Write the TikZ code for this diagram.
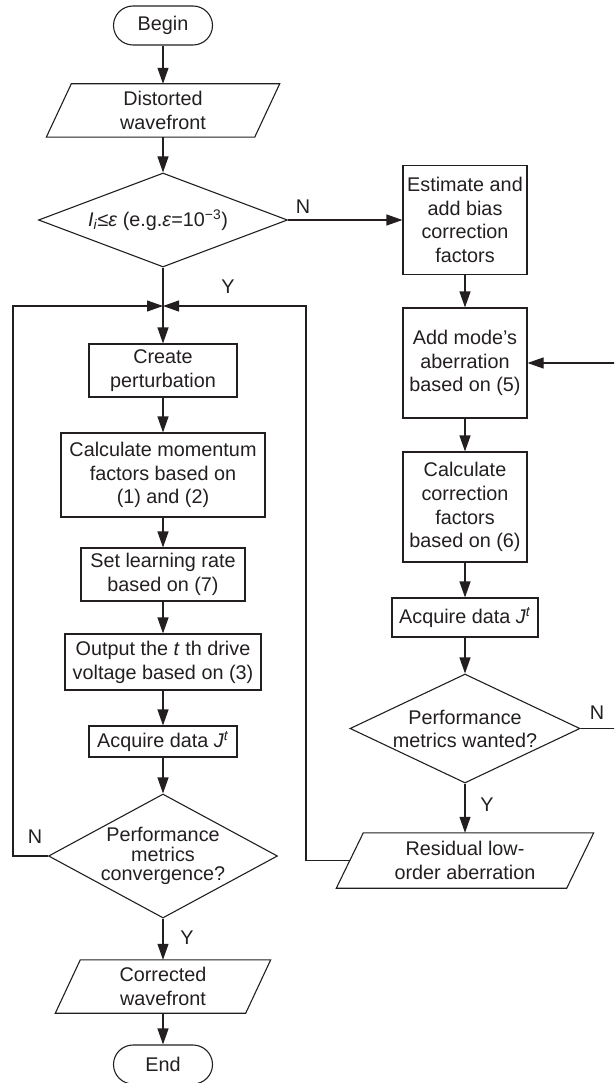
\documentclass[tikz,border=0pt]{standalone}
\usepackage{fontspec}
\setmainfont{Liberation Sans}
\usetikzlibrary{arrows.meta,shapes.geometric}
\definecolor{ink}{RGB}{35,31,32}
\newcommand\drawpara[2]{\draw[line] ([xshift=#2]#1.north west) -- ([xshift=#2]#1.north east) -- ([xshift=-#2]#1.south east) -- ([xshift=-#2]#1.south west) -- cycle;}
\begin{document}
\begin{tikzpicture}[x=1pt,y=-1pt,
  every node/.style={font=\fontsize{19.8}{23.8}\selectfont, text=ink},
  line/.style={draw=ink, line width=1.1pt},
  arr/.style={line, -{Triangle[length=16pt,width=11pt]}},
  box/.style={line, rectangle, inner sep=0pt, align=center},
  term/.style={line, rectangle, rounded corners=19.5pt, inner sep=0pt, minimum width=99pt, minimum height=39pt},
  para/.style={inner sep=0pt, align=center},
  dec/.style={line, diamond, inner sep=0pt},
  lab/.style={inner sep=0pt}
]
\useasboundingbox (0,0) rectangle (614,1083);
\clip (0,0) rectangle (614,1083);

% left column
\node[term] (begin) at (163,25.5) {Begin};
\node[para, minimum width=208pt, minimum height=53pt] (dist) at (163,110.5) {Distorted\\wavefront};
\drawpara{dist}{12.5pt}
\node[dec, minimum width=249pt, minimum height=94pt] (d1) at (163,220) {};
\node[lab] (d1t) at ([xshift=-5pt]d1.center) {\textit{I}\textsubscript{\textit{i}}≤\textit{ε} (e.g.\textit{ε}=10\textsuperscript{−3})};
\node[box, minimum width=148pt, minimum height=53pt] (create) at (163,370.5) {Create\\perturbation};
\node[box, minimum width=204pt, minimum height=84pt] (mom) at (163,475) {Calculate momentum\\factors based on\\(1) and (2)};
\node[box, minimum width=164pt, minimum height=53pt] (lr) at (163,574.5) {Set learning rate\\based on (7)};
\node[box, minimum width=196pt, minimum height=56pt] (out) at (163,662) {Output the \textit{t} th drive\\voltage based on (3)};
\node[box, minimum width=148pt, minimum height=31pt] (acq1) at (163,741.5) {Acquire data \textit{J}\textsuperscript{\textit{t}}};
\node[dec, minimum width=229pt, minimum height=124pt] (d2) at (163,856) {};
\node[lab, align=center, font=\fontsize{19.8}{19.5}\selectfont] (d2t) at (d2.center) {Performance\\metrics\\convergence?};
\node[para, minimum width=190pt, minimum height=53pt] (corr) at (163,986.5) {Corrected\\wavefront};
\drawpara{corr}{12.5pt}
\node[term] (end) at (163,1064.5) {End};

% right column
\node[box, minimum width=124pt, minimum height=109pt] (est) at (465,220) {Estimate and\\add bias\\correction\\factors};
\node[box, minimum width=124pt, minimum height=110pt] (add) at (465,363) {Add mode’s\\aberration\\based on (5)};
\node[box, minimum width=124pt, minimum height=110pt] (cc) at (465,507) {Calculate\\correction\\factors\\based on (6)};
\node[box, minimum width=146pt, minimum height=39pt] (acq2) at (465,617.5) {Acquire data \textit{J}\textsuperscript{\textit{t}}};
\node[dec, minimum width=230pt, minimum height=109pt] (d3) at (465,728.5) {};
\node[lab, align=center, font=\fontsize{19.8}{23}\selectfont] (d3t) at (d3.center) {Performance\\metrics wanted?};
\node[para, minimum width=230pt, minimum height=55pt] (res) at (465,860.5) {Residual low-\\order aberration};
\drawpara{res}{13.5pt}

% labels
\node[lab] (n1) at (303,207) {N};
\node[lab] (y1) at (228,287) {Y};
\node[lab] (n2) at (35,837) {N};
\node[lab] (y2) at (187,938) {Y};
\node[lab] (n3) at (597,713) {N};
\node[lab] (y3) at (487,805) {Y};

% coordinates
\coordinate (merge) at (163,306);
\coordinate (cL1) at (13,856);
\coordinate (cL2) at (13,306);
\coordinate (cR1) at (306,860.5);
\coordinate (cR2) at (306,306);
\coordinate (cR3) at (616,728.5);
\coordinate (cR4) at (616,363);

% connectors
\draw[arr] (begin.south) -- (dist.north);
\draw[arr] (dist.south) -- (d1.north);
\draw[arr] (d1.east) -- (est.west);
\draw[line] (d1.south) -- (merge);
\draw[arr] (merge) -- (create.north);
\draw[arr] (create.south) -- (mom.north);
\draw[arr] (mom.south) -- (lr.north);
\draw[arr] (lr.south) -- (out.north);
\draw[arr] (out.south) -- (acq1.north);
\draw[arr] (acq1.south) -- (d2.north);
\draw[arr] (d2.south) -- (corr.north);
\draw[arr] (corr.south) -- (end.north);
\draw[arr] (d2.west) -- (cL1) -- (cL2) -- (merge);
\draw[arr] (res.west) -- (cR1) -- (cR2) -- (merge);

\draw[arr] (est.south) -- (add.north);
\draw[arr] (add.south) -- (cc.north);
\draw[arr] (cc.south) -- (acq2.north);
\draw[arr] (acq2.south) -- (d3.north);
\draw[arr] (d3.south) -- (res.north);
\draw[arr] (d3.east) -- (cR3) -- (cR4) -- (add.east);
\end{tikzpicture}
\end{document}
